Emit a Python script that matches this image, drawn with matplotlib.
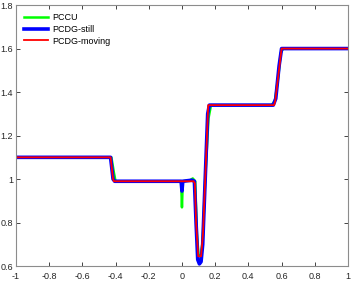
import matplotlib
matplotlib.use('Agg')
import matplotlib.pyplot as plt

# values
x_pccu = [-1, -0.425, -0.41, -0.40, -0.005, 0.0, 0.005, 0.05, 0.065, 0.08, 0.09, 0.10,
          0.115, 0.125, 0.14, 0.16, 0.175, 0.54, 0.56, 0.58, 0.595, 0.61, 1]
y_pccu = [1.1, 1.1, 1.03, 0.99, 0.99, 0.87, 0.99, 0.995, 1.003, 0.99, 0.75, 0.65,
          0.65, 0.72, 1.0, 1.28, 1.34, 1.34, 1.36, 1.47, 1.58, 1.6, 1.6]

x_still = [-1, -0.43, -0.415, -0.405, -0.005, 0.0, 0.005, 0.06, 0.075, 0.085, 0.095,
           0.105, 0.115, 0.125, 0.14, 0.155, 0.165, 0.55, 0.565, 0.585, 0.6, 1]
y_still = [1.1, 1.1, 1.0, 0.99, 0.99, 0.945, 0.99, 0.995, 0.99, 0.8, 0.63,
           0.61, 0.62, 0.7, 1.0, 1.3, 1.34, 1.34, 1.37, 1.52, 1.6, 1.6]

x_moving = [-1, -0.43, -0.415, -0.41, 0.07, 0.078, 0.085, 0.098, 0.115, 0.127, 0.158,
            0.555, 0.562, 0.6, 1]
y_moving = [1.1, 1.1, 1.0, 0.99, 0.99, 0.98, 0.8, 0.645, 0.645, 0.75, 1.34,
            1.34, 1.36, 1.6, 1.6]

xticks = [-1, -0.8, -0.6, -0.4, -0.2, 0, 0.2, 0.4, 0.6, 0.8, 1]
xlabels = ['-1', '-0.8', '-0.6', '-0.4', '-0.2', '0', '0.2', '0.4', '0.6', '0.8', '1']
yticks = [0.6, 0.8, 1, 1.2, 1.4, 1.6, 1.8]
ylabels = ['0.6', '0.8', '1', '1.2', '1.4', '1.6', '1.8']

plt.rcParams['font.family'] = ['Liberation Sans', 'DejaVu Sans']

fig = plt.figure(figsize=(3.54, 2.81), dpi=100)
ax = fig.add_axes([0.045, 0.053, 0.938, 0.929])

ax.plot(x_pccu, y_pccu, color='#00ff00', lw=1.8, label='PCCU')
ax.plot(x_still, y_still, color='#0000ff', lw=2.6, label='PCDG-still')
ax.plot(x_moving, y_moving, color='#ff0000', lw=1.3, label='PCDG-moving')

ax.set_xlim(-1, 1)
ax.set_ylim(0.6, 1.8)
ax.set_xticks(xticks)
ax.set_xticklabels(xlabels)
ax.set_yticks(yticks)
ax.set_yticklabels(ylabels)
ax.tick_params(direction='in', length=3, width=0.6, labelsize=6.5, colors='#262626',
               top=True, right=True)
ax.tick_params(axis='x', pad=4)
ax.tick_params(axis='y', pad=2)
for s in ax.spines.values():
    s.set_color('#8c8c8c')
    s.set_linewidth(0.8)

leg = ax.legend(loc='upper left', frameon=False, fontsize=6.5, handlelength=2.7,
                borderaxespad=0.5, labelspacing=0.3, handletextpad=0.4)

fig.savefig('out.png', dpi=100)
